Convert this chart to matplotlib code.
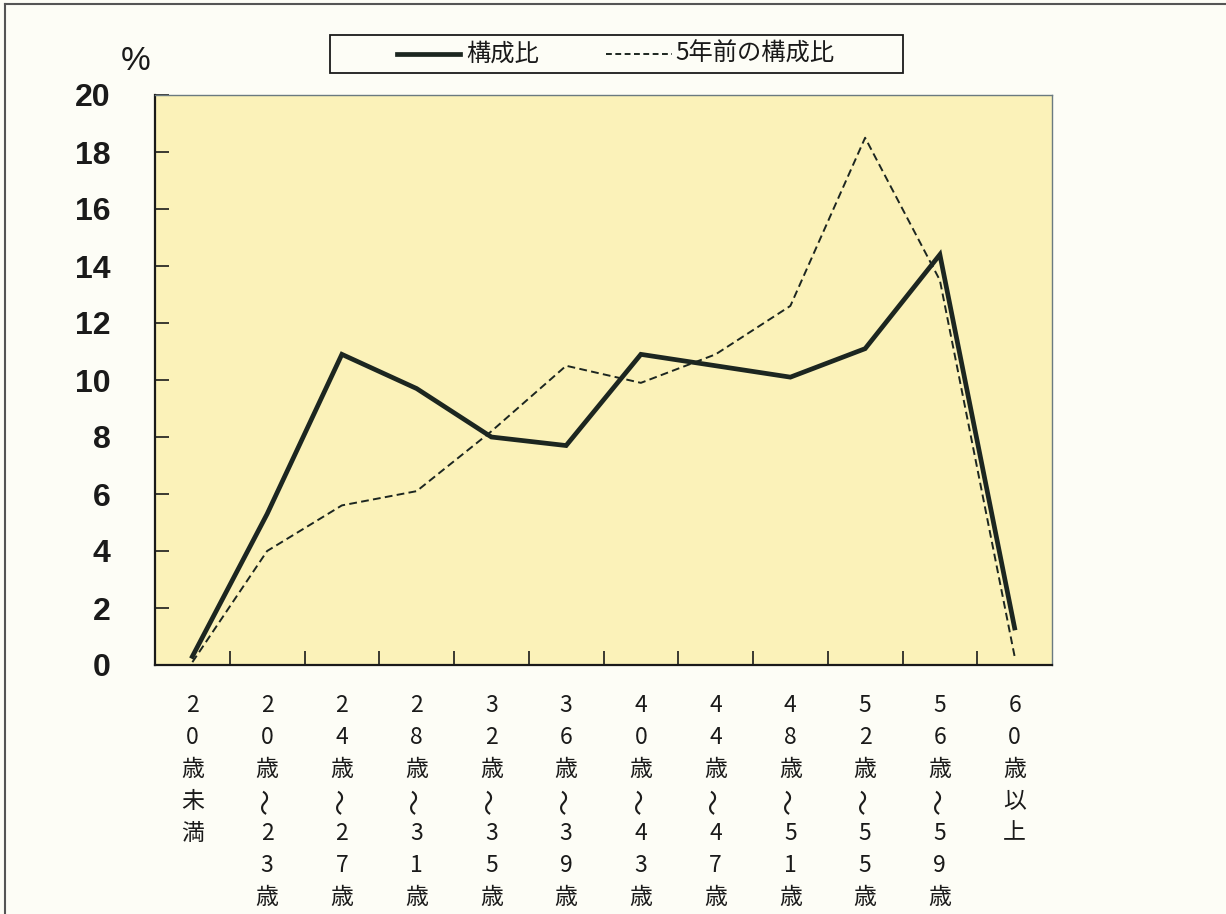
import matplotlib
matplotlib.use("Agg")
import matplotlib.pyplot as plt
from matplotlib.lines import Line2D

plt.rcParams['font.family'] = ['Noto Sans CJK JP', 'DejaVu Sans']

categories = ["20歳未満", "20歳~23歳", "24歳~27歳", "28歳~31歳", "32歳~35歳", "36歳~39歳",
              "40歳~43歳", "44歳~47歳", "48歳~51歳", "52歳~55歳", "56歳~59歳", "60歳以上"]
current = [0.3, 5.3, 10.9, 9.7, 8.0, 7.7, 10.9, 10.5, 10.1, 11.1, 14.4, 1.3]
five_years_ago = [0.1, 4.0, 5.6, 6.1, 8.2, 10.5, 9.9, 10.9, 12.6, 18.5, 13.5, 0.3]
yticks = list(range(0, 21, 2))
legend_labels = ["構成比", "5年前の構成比"]

W, H = 1226, 914
fig = plt.figure(figsize=(W / 100, H / 100), dpi=100)
fig.patch.set_facecolor('#fdfdf6')

L, R, T, B = 155, 1052, 95, 665
ax = fig.add_axes([L / W, 1 - B / H, (R - L) / W, (B - T) / H])
ax.set_facecolor('#fbf2b9')

line_color = '#1c2620'
dash = (0, (4, 2.2))
x = list(range(len(categories)))
ax.plot(x, five_years_ago, color=line_color, lw=1.4, ls=dash, zorder=3)
ax.plot(x, current, color=line_color, lw=3.4, solid_joinstyle='miter', zorder=4)

ax.set_xlim(-0.5, len(categories) - 0.5)
ax.set_ylim(0, 20)
ax.set_yticks(yticks)
ax.set_yticklabels([str(v) for v in yticks], fontsize=23, fontweight='bold',
                   family=['Liberation Sans'], color='#1a1a1a')
ax.set_xticks([i + 0.5 for i in range(len(categories) - 1)])
ax.set_xticklabels([])
ax.tick_params(axis='y', direction='in', length=10, width=1.2, pad=32, colors='#1a1a1a')
ax.tick_params(axis='x', direction='in', length=10, width=1.2, colors='#1a1a1a')
for s in ['left', 'bottom']:
    ax.spines[s].set_linewidth(1.6)
    ax.spines[s].set_color('#1a1a1a')
for s in ['top', 'right']:
    ax.spines[s].set_linewidth(1.0)
    ax.spines[s].set_color('#6a7a80')

# vertical category labels, one character per row
row_h = 32.0
y_first = 705
for i, c in enumerate(categories):
    xf = (L + (i + 0.5) * (R - L) / len(categories)) / W
    for j, ch in enumerate(c):
        yf = 1 - (y_first + j * row_h) / H
        if ch == '~':
            fig.text(xf, yf, '〜', ha='center', va='center', fontsize=19, rotation=90,
                     color='#1a1a1a')
        else:
            fig.text(xf, yf, ch, ha='center', va='center', fontsize=16.5, color='#1a1a1a')

fig.text(136 / W, 1 - 62 / H, '%', ha='center', va='center', fontsize=24,
         family=['Liberation Sans'], color='#1a1a1a')

# legend box
lx0, lx1, ly0, ly1 = 330, 903, 35, 73
fig.patches.append(plt.Rectangle((lx0 / W, 1 - ly1 / H), (lx1 - lx0) / W, (ly1 - ly0) / H,
                                 transform=fig.transFigure, fill=True, facecolor='#fdfdf6',
                                 edgecolor='#1a1a1a', lw=1.3))
ym = 1 - 54 / H
fig.add_artist(Line2D([397 / W, 460 / W], [ym, ym], color=line_color, lw=3.4))
fig.text(466 / W, ym, legend_labels[0], ha='left', va='center', fontsize=17.5, color='#1a1a1a')
fig.add_artist(Line2D([606 / W, 672 / W], [ym, ym], color=line_color, lw=1.4, ls=(0, (3, 1.8))))
fig.text(675 / W, ym, legend_labels[1], ha='left', va='center', fontsize=17.5, color='#1a1a1a')

# outer frame lines (left and top)
fig.add_artist(Line2D([5 / W, 5 / W], [0, 1 - 4 / H], color='#555555', lw=1.5))
fig.add_artist(Line2D([5 / W, 1], [1 - 4 / H, 1 - 4 / H], color='#555555', lw=1.5))

fig.savefig('out.png', dpi=100, facecolor=fig.get_facecolor())
